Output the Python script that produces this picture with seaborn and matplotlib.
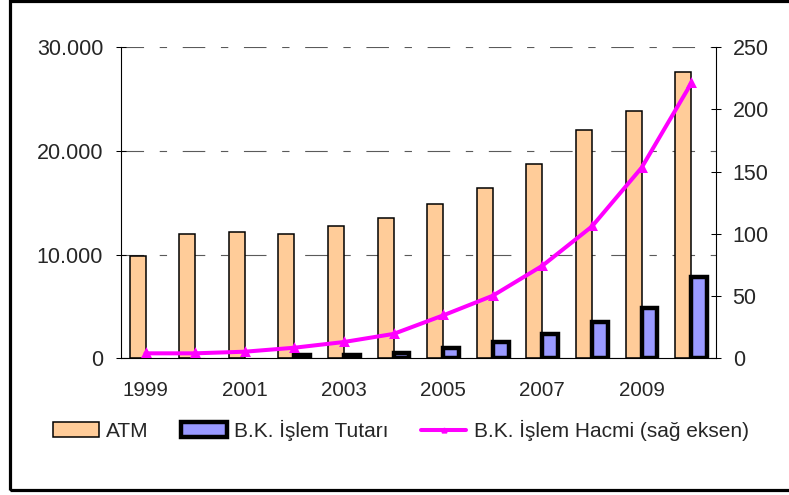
import numpy as np
import pandas as pd
import matplotlib
matplotlib.use("Agg")
import matplotlib.pyplot as plt
import seaborn as sns
from matplotlib.patches import Patch, Rectangle
from matplotlib.lines import Line2D
from matplotlib.ticker import FixedLocator, NullFormatter, FuncFormatter

# ---- data -------------------------------------------------------------
years = [str(y) for y in range(1999, 2011)]
year_labels = ["1999", "2001", "2003", "2005", "2007", "2009"]

# ATM count (left axis)
atm = [9900, 12000, 12200, 12000, 12800, 13500, 14900, 16450, 18770, 22050, 23820, 27640]
# card transaction amount (left axis)
kart_tutar = [np.nan, np.nan, np.nan, 330, 330, 490, 970, 1550, 2350, 3480, 4830, 7800]
# card transaction volume (right axis)
kart_hacim = [4, 4, 5.3, 8.5, 13.1, 19.6, 34.5, 50.3, 74.4, 106, 153.2, 221]

series_names = ["ATM", "B.K. İşlem Tutarı", "B.K. İşlem Hacmi (sağ eksen)"]
colors = ["#FFCC99", "#9999FF", "#FF00FF"]

left_ticks = [0, 10000, 20000, 30000]
right_ticks = [0, 50, 100, 150, 200, 250]

# ---- style ------------------------------------------------------------
sns.set_style("white")
plt.rcParams["font.family"] = ["Liberation Sans", "DejaVu Sans"]

W, H = 789, 495
fig = plt.figure(figsize=(W / 100, H / 100), dpi=100)
fig.patch.set_facecolor("white")

x0, x1 = 120.7, 716.0
y_top, y_bot = 47.3, 358.3
ax = fig.add_axes([x0 / W, 1 - y_bot / H, (x1 - x0) / W, (y_bot - y_top) / H])

bars = pd.DataFrame({
    "Yıl": years * 2,
    "Seri": [series_names[0]] * len(years) + [series_names[1]] * len(years),
    "Değer": atm + kart_tutar,
})

sns.barplot(data=bars, x="Yıl", y="Değer", hue="Seri", order=years,
            hue_order=series_names[:2], palette=colors[:2], saturation=1,
            width=0.64, dodge=True, errorbar=None, legend=False, ax=ax)

for patch in ax.containers[0]:
    patch.set_edgecolor("black")
    patch.set_linewidth(1.1)
for patch in ax.containers[1]:
    patch.set_edgecolor("black")
    patch.set_linewidth(3.2)

ax2 = ax.twinx()
sns.pointplot(x=years, y=kart_hacim, order=years, color=colors[2],
              markers="^", linestyles="-", errorbar=None,
              markersize=3.8, linewidth=2.9, ax=ax2)

# ---- axes -------------------------------------------------------------
ax.set_xlim(-0.5, len(years) - 0.5)
ax.set_ylim(0, 30000)
ax2.set_ylim(0, 250)

ax.xaxis.set_major_locator(FixedLocator(np.arange(-0.5, len(years), 1.0)))
ax.xaxis.set_major_formatter(NullFormatter())
ax.set_xticks([years.index(y) for y in year_labels], labels=year_labels, minor=True)

ax.set_yticks(left_ticks)
ax.yaxis.set_major_formatter(FuncFormatter(lambda v, p: f"{int(v):,}".replace(",", ".")))
ax2.set_yticks(right_ticks)

ax.tick_params(axis="x", which="major", direction="inout", length=7.2, width=0.75, color="black")
ax.tick_params(axis="x", which="minor", length=0, pad=16.0, labelsize=14.8)
ax.tick_params(axis="y", direction="inout", length=7.2, width=0.75, color="black",
               pad=9.0, labelsize=15.5)
ax2.tick_params(axis="y", direction="inout", length=7.2, width=0.75, color="black",
                pad=8.4, labelsize=15.5)

for a in (ax, ax2):
    a.set_xlabel("")
    a.set_ylabel("")

for side in ["top", "right"]:
    ax.spines[side].set_visible(False)
for side in ["left", "bottom"]:
    ax.spines[side].set_color("black")
    ax.spines[side].set_linewidth(0.8)
for side in ["top", "left", "bottom"]:
    ax2.spines[side].set_visible(False)
ax2.spines["right"].set_color("black")
ax2.spines["right"].set_linewidth(0.8)

ax.set_axisbelow(True)
ax.yaxis.grid(True, color="#5a5a5a", linewidth=0.8,
              linestyle=(0, (20.3, 14.1, 6.6, 14.1)))
ax.xaxis.grid(False)

# ---- legend -----------------------------------------------------------
handles = [
    Patch(facecolor=colors[0], edgecolor="black", linewidth=1.1),
    Patch(facecolor=colors[1], edgecolor="black", linewidth=3.2),
    Line2D([], [], color=colors[2], linewidth=2.9, marker="^", markersize=3.5),
]
fig.legend(handles, series_names, loc="center left",
           bbox_to_anchor=(52.7 / W, 1 - 430.5 / H), ncol=3, frameon=False,
           fontsize=15, handlelength=2.2, handleheight=0.75, handletextpad=0.35,
           columnspacing=1.55, borderpad=0, borderaxespad=0)

# chart border
fig.patches.append(Rectangle((10 / W, 1 - 490 / H), 1.05 - 10 / W, (490 - 1.3) / H,
                             transform=fig.transFigure, fill=False,
                             edgecolor="black", linewidth=2.3))

fig.savefig("out.png", dpi=100)
